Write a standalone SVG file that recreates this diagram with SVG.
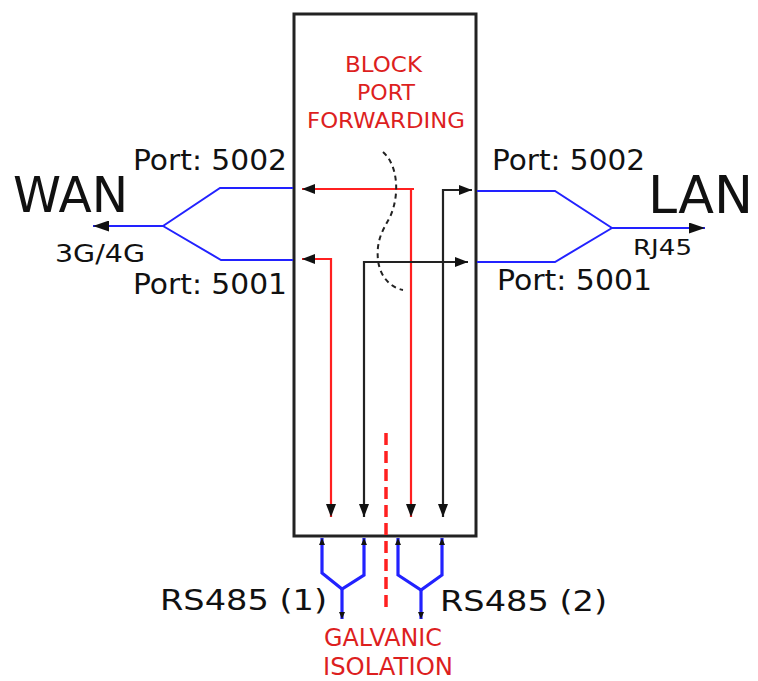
<svg xmlns="http://www.w3.org/2000/svg" width="758" height="681" viewBox="0 0 758 681">
<style>
text{font-family:"DejaVu Sans","Verdana",sans-serif;fill:#111}
.red{fill:#dd1f1f}
.blue{fill:none;stroke:#2222ff;stroke-width:2;stroke-linejoin:miter}
.blue3{fill:none;stroke:#2222ff;stroke-width:3.2}
.rl{fill:none;stroke:#ff2020;stroke-width:2.2}
.bl{fill:none;stroke:#222;stroke-width:2.2}
</style>
<defs>
<marker id="ah" viewBox="0 0 13 10" refX="13" refY="5" markerWidth="13" markerHeight="10" markerUnits="userSpaceOnUse" orient="auto-start-reverse"><path d="M0,0 L13,5 L0,10 z" fill="#111"/></marker>
<marker id="big" viewBox="0 0 16 11" refX="16" refY="5.5" markerWidth="16" markerHeight="11" markerUnits="userSpaceOnUse" orient="auto-start-reverse"><path d="M0,0 L16,5.5 L0,11 z" fill="#111"/></marker>
<marker id="sm" viewBox="0 0 7 6" refX="7" refY="3" markerWidth="7" markerHeight="6" markerUnits="userSpaceOnUse" orient="auto-start-reverse"><path d="M0,0 L7,3 L0,6 z" fill="#111"/></marker>
</defs>
<g id="router">
<rect x="294" y="14" width="182" height="522" fill="#fff" stroke="#222" stroke-width="3"/>
</g>
<g id="block-label">
<text class="red" x="345" y="72" font-size="22" textLength="77" lengthAdjust="spacingAndGlyphs">BLOCK</text>
<text class="red" x="357" y="100" font-size="22" textLength="58" lengthAdjust="spacingAndGlyphs">PORT</text>
<text class="red" x="307" y="128" font-size="22" textLength="158" lengthAdjust="spacingAndGlyphs">FORWARDING</text>
</g>
<g id="wan">
<text x="13" y="212" font-size="49" textLength="115" lengthAdjust="spacingAndGlyphs">WAN</text>
<text x="55" y="262" font-size="24" textLength="90" lengthAdjust="spacingAndGlyphs">3G/4G</text>
<text x="133" y="170" font-size="28" textLength="154" lengthAdjust="spacingAndGlyphs">Port: 5002</text>
<text x="133" y="294" font-size="28" textLength="154" lengthAdjust="spacingAndGlyphs">Port: 5001</text>
</g>
<g id="lan">
<text x="648" y="213" font-size="51" textLength="105" lengthAdjust="spacingAndGlyphs">LAN</text>
<text x="633" y="255" font-size="21" textLength="59" lengthAdjust="spacingAndGlyphs">RJ45</text>
<text x="492" y="170" font-size="28" textLength="153" lengthAdjust="spacingAndGlyphs">Port: 5002</text>
<text x="497" y="290" font-size="28" textLength="155" lengthAdjust="spacingAndGlyphs">Port: 5001</text>
</g>
<g id="rs485-1">
<text x="160" y="610" font-size="29" textLength="167" lengthAdjust="spacingAndGlyphs">RS485 (1)</text>
</g>
<g id="rs485-2">
<text x="440" y="611" font-size="29" textLength="167" lengthAdjust="spacingAndGlyphs">RS485 (2)</text>
</g>
<g id="galvanic-label">
<text class="red" x="324" y="646" font-size="25" textLength="118" lengthAdjust="spacingAndGlyphs">GALVANIC</text>
<text class="red" x="323" y="675" font-size="25" textLength="130" lengthAdjust="spacingAndGlyphs">ISOLATION</text>
</g>
<g id="connectors">
<path class="blue" d="M293,188 L220,188 L163,226"/>
<path class="blue" d="M293,260 L221,260 L163,226"/>
<path class="blue" d="M163,226 L93,226" marker-end="url(#big)"/>
<path class="blue" d="M477,191 L555,191 L612,228"/>
<path class="blue" d="M477,262 L555,262 L612,228"/>
<path class="blue" d="M612,228 L705,228" marker-end="url(#big)"/>
<path class="rl" d="M414,189 L302,189" marker-end="url(#ah)"/>
<path class="rl" d="M411,189 L411,517" marker-end="url(#ah)"/>
<path class="rl" d="M331,517 L331,259 L302,259" marker-start="url(#ah)" marker-end="url(#ah)"/>
<path class="bl" d="M364,517 L364,262 L468,262" marker-start="url(#ah)" marker-end="url(#ah)"/>
<path class="bl" d="M443,517 L443,190 L472,190" marker-start="url(#ah)" marker-end="url(#ah)"/>
<path d="M383,152 C398,165 400,195 390,217 C383,230 376,240 378,260 C380,278 392,288 403,290" fill="none" stroke="#222" stroke-width="2" stroke-dasharray="5,4"/>
<path d="M386,433 L386,608" fill="none" stroke="#ff2020" stroke-width="3.5" stroke-dasharray="12,6"/>
<path class="blue3" d="M322,538 L322,573 L342,589 L364,575 L364,538" marker-start="url(#sm)" marker-end="url(#sm)"/>
<path class="blue3" d="M342,589 L342,619" marker-end="url(#sm)"/>
<path class="blue3" d="M398,538 L398,575 L421,590 L442,575 L442,538" marker-start="url(#sm)" marker-end="url(#sm)"/>
<path class="blue3" d="M421,590 L421,619" marker-end="url(#sm)"/>
</g>
</svg>
